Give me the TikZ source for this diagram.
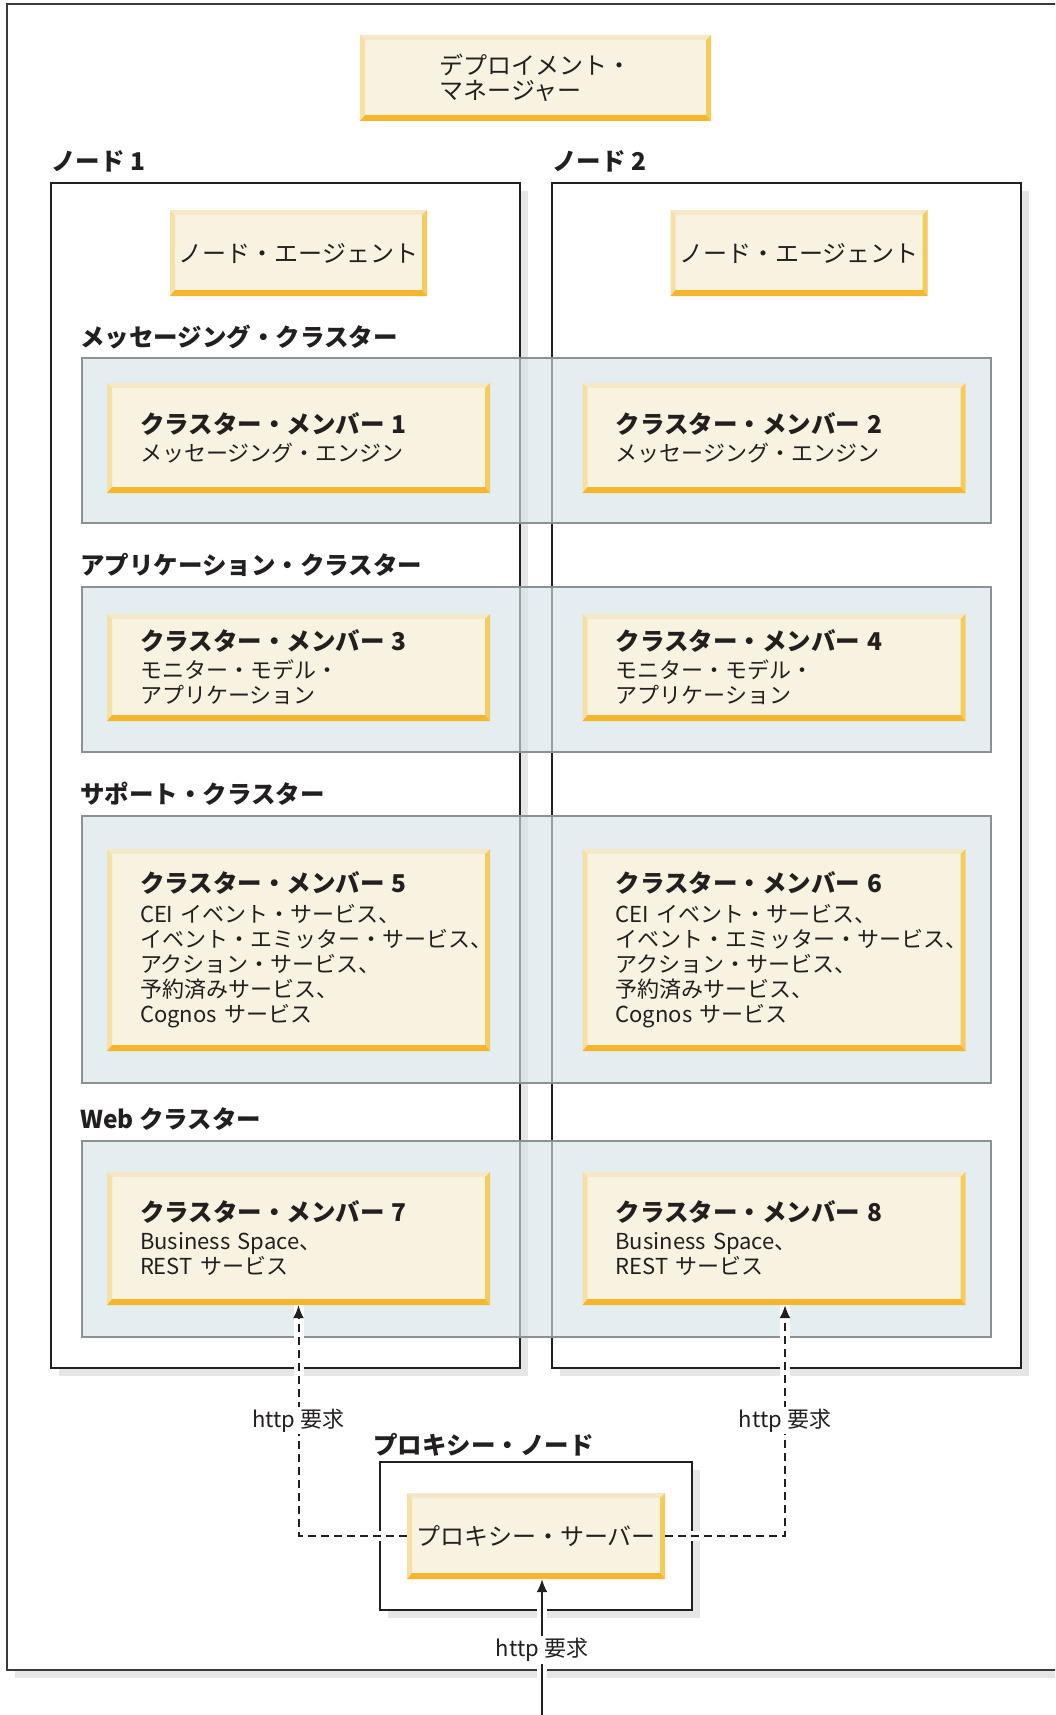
\documentclass[tikz,border=0pt]{standalone}
\usepackage{fontspec}
\setmainfont{Noto Sans CJK JP}
\usetikzlibrary{arrows.meta,shadows}

\definecolor{ink}{HTML}{231F20}
\definecolor{framegray}{HTML}{3A3A3A}
\definecolor{boxface}{HTML}{F8F3E1}
\definecolor{bevtop}{HTML}{F5E8C8}
\definecolor{bevleft}{HTML}{F6E0A6}
\definecolor{bevright}{HTML}{F5CB5E}
\definecolor{bevbot}{HTML}{F4B62E}
\definecolor{clusteredge}{HTML}{8C9196}
\definecolor{clusterfill}{HTML}{D6E4E8}
\definecolor{shadowgray}{HTML}{E6E6E6}

\newcommand{\memtitle}[1]{{\bfseries\fontsize{24.5}{27}\selectfont #1}}

\begin{document}
\begin{tikzpicture}[x=1pt,y=-1pt]
        \tikzstyle{hostbox} = [rectangle, draw=ink, line width=1.5pt, fill=white, inner sep=0pt, general shadow={fill=shadowgray, draw=none, shadow xshift=8pt, shadow yshift=-8pt}]
        \tikzstyle{framebox} = [hostbox, draw=framegray]
        \tikzstyle{bevelbox} = [rectangle, fill=boxface, text=ink, inner sep=0pt, path picture={
            \coordinate (bnw) at (path picture bounding box.north west);
            \coordinate (bne) at (path picture bounding box.north east);
            \coordinate (bsw) at (path picture bounding box.south west);
            \coordinate (bse) at (path picture bounding box.south east);
            \fill[fill=bevtop] (bnw) -- (bne) -- ([shift={(-5pt,-5pt)}]bne) -- ([shift={(5pt,-5pt)}]bnw) -- cycle;
            \fill[fill=bevleft] (bnw) -- ([shift={(5pt,-5pt)}]bnw) -- ([shift={(5pt,6pt)}]bsw) -- (bsw) -- cycle;
            \fill[fill=bevright] (bne) -- (bse) -- ([shift={(-5pt,6pt)}]bse) -- ([shift={(-5pt,-5pt)}]bne) -- cycle;
            \fill[fill=bevbot] (bsw) -- (bse) -- ([shift={(-5pt,6pt)}]bse) -- ([shift={(5pt,6pt)}]bsw) -- cycle;}]
        \tikzstyle{plainbox} = [bevelbox, font=\fontsize{24}{25}\selectfont, align=left]
        \tikzstyle{memberbox} = [bevelbox, font=\fontsize{22}{25}\selectfont, text width=317pt, inner xsep=33pt, align=left]
        \tikzstyle{cluster} = [rectangle, draw=clusteredge, line width=2pt, fill=clusterfill, fill opacity=0.65, minimum width=909pt, inner sep=0pt]
        \tikzstyle{grouplabel} = [font=\bfseries\fontsize{24.5}{28}\selectfont, text=ink, anchor=west, inner sep=0pt]
        \tikzstyle{request} = [draw=ink, line width=2pt, -{Latex[length=13pt,width=11pt]}, preaction={draw=white, line width=10pt, solid, arrows=-}]
        \tikzstyle{forward} = [request, dash pattern=on 8pt off 5pt]
        \tikzstyle{reqlabel} = [fill=white, text=ink, font=\fontsize{22}{24}\selectfont, inner sep=2pt]
        \clip (0,0) rectangle (1055,1715);
        \node[framebox, minimum width=1070pt, minimum height=1666pt] (frame) at (542,837) {};
        \node[plainbox, minimum width=351pt, minimum height=86pt] (dmgr) at (535.5,78) {デプロイメント・\\マネージャー};
        \node[grouplabel] (node1lab) at (51,161) {ノード 1};
        \node[grouplabel] (node2lab) at (552,161) {ノード 2};
        \node[hostbox, minimum width=469pt, minimum height=1185pt] (node1) at (285.5,775.5) {};
        \node[hostbox, minimum width=469pt, minimum height=1185pt] (node2) at (786.5,775.5) {};
        \node[plainbox, minimum width=257pt, minimum height=86pt] (agent1) at (298.5,253) {ノード・エージェント};
        \node[plainbox, minimum width=257pt, minimum height=86pt] (agent2) at (799,253) {ノード・エージェント};
        % messaging
        \node[grouplabel] (msglab) at (80,337) {メッセージング・クラスター};
        \node[cluster, minimum height=165pt] (msg) at (536,440.5) {};
        \node[memberbox, minimum height=110pt] (m1) at (298.5,438) {\memtitle{クラスター・メンバー 1}\\[3pt]メッセージング・エンジン};
        \node[memberbox, minimum height=110pt] (m2) at (774,438) {\memtitle{クラスター・メンバー 2}\\[3pt]メッセージング・エンジン};
        % application
        \node[grouplabel] (applab) at (80,565) {アプリケーション・クラスター};
        \node[cluster, minimum height=165pt] (app) at (536,669.5) {};
        \node[memberbox, minimum height=107pt] (m3) at (298.5,667.5) {\memtitle{クラスター・メンバー 3}\\[3pt]モニター・モデル・\\アプリケーション};
        \node[memberbox, minimum height=107pt] (m4) at (774,667.5) {\memtitle{クラスター・メンバー 4}\\[3pt]モニター・モデル・\\アプリケーション};
        % support
        \node[grouplabel] (suplab) at (80,794) {サポート・クラスター};
        \node[cluster, minimum height=267pt] (sup) at (536,949.5) {};
        \node[memberbox, minimum height=202pt] (m5) at (298.5,950) {\memtitle{クラスター・メンバー 5}\\[5pt]CEI イベント・サービス、\\イベント・エミッター・サービス、\\アクション・サービス、\\予約済みサービス、\\Cognos サービス};
        \node[memberbox, minimum height=202pt] (m6) at (774,950) {\memtitle{クラスター・メンバー 6}\\[5pt]CEI イベント・サービス、\\イベント・エミッター・サービス、\\アクション・サービス、\\予約済みサービス、\\Cognos サービス};
        % web
        \node[grouplabel] (weblab) at (80,1119) {Web クラスター};
        \node[cluster, minimum height=196pt] (web) at (536,1239) {};
        \node[memberbox, minimum height=133pt] (m7) at (298.5,1238.5) {\memtitle{クラスター・メンバー 7}\\[3pt]Business Space、\\REST サービス};
        \node[memberbox, minimum height=133pt] (m8) at (774,1238.5) {\memtitle{クラスター・メンバー 8}\\[3pt]Business Space、\\REST サービス};
        % proxy
        \node[grouplabel] (pnodelab) at (373,1445) {プロキシー・ノード};
        \node[hostbox, minimum width=312pt, minimum height=148pt] (pnode) at (536,1536) {};
        \node[plainbox, minimum width=258pt, minimum height=86pt] (proxy) at (536,1536) {プロキシー・サーバー};
        \coordinate (client) at (542,1715);
        \coordinate (c8) at (785,1536);
        \draw[request] (client) -- node[reqlabel, pos=0.48] (req0) {http 要求} (client |- proxy.south);
        \draw[forward] (proxy.west) -- (m7.south |- proxy.west) -- node[reqlabel] (req7) {http 要求} (m7.south);
        \draw[forward] (proxy.east) -- (c8) -- node[reqlabel] (req8) {http 要求} (c8 |- m8.south);
\end{tikzpicture}
\end{document}
